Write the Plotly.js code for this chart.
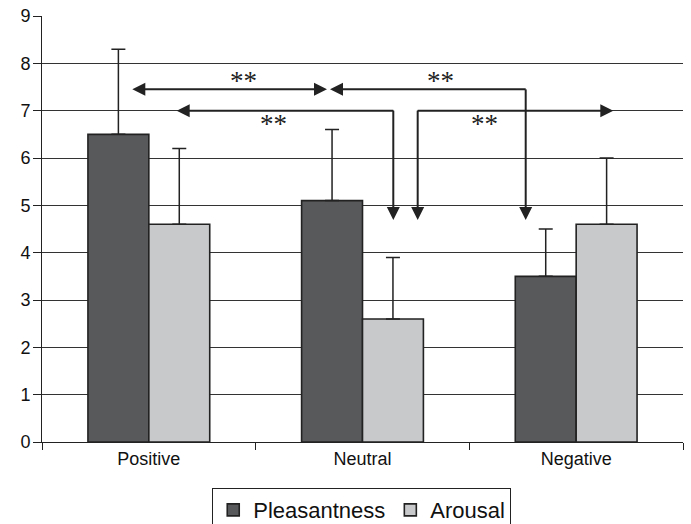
<!DOCTYPE html>
<html>
<head>
<meta charset="utf-8">
<script src="https://cdn.plot.ly/plotly-3.0.1.min.js"></script>
<style>html,body{margin:0;padding:0;background:#fff;}#chart{width:691px;height:524px;}</style>
</head>
<body>
<div id="chart"></div>
<script>
// ---- data ----
const categories = ["Positive", "Neutral", "Negative"];
const pleasantness = [6.5, 5.1, 3.5];
const pleasantnessErr = [1.8, 1.5, 1.0];
const arousal = [4.6, 2.6, 4.6];
const arousalErr = [1.6, 1.3, 1.4];
const yTicks = [0, 1, 2, 3, 4, 5, 6, 7, 8, 9];
const sigLabel = "**";

// ---- styles ----
const ink = "#222222";
const darkFill = "#58595b";
const lightFill = "#c8c9cb";

function barTrace(name, vals, errs, fill) {
  return {
    type: "bar", name: name, x: categories, y: vals,
    marker: {color: fill, line: {color: ink, width: 1.6}},
    error_y: {type: "data", symmetric: false, array: errs, arrayminus: vals.map(() => 0),
              color: ink, thickness: 1.5, width: 7},
    hoverinfo: "none"
  };
}

const traces = [
  barTrace("Pleasantness", pleasantness, pleasantnessErr, darkFill),
  barTrace("Arousal", arousal, arousalErr, lightFill)
];

// ---- significance arrows (category-index x, value y) ----
const upperY = 7.45, lowerY = 7.0, dropY = 4.69;
const shapes = [];
function seg(x0, y0, x1, y1, color, w) {
  shapes.push({type: "line", xref: "x", yref: "y", x0: x0, y0: y0, x1: x1, y1: y1,
               line: {color: color || ink, width: w || 2}, layer: "above"});
}
function head(x, y, dir) {
  const L = 13, H = 6.5;
  let p;
  if (dir === "right") p = `M0,0 L${-L},${H} L${-L},${-H} Z`;
  else if (dir === "left") p = `M0,0 L${L},${H} L${L},${-H} Z`;
  else p = `M0,0 L${-H},${L} L${H},${L} Z`;
  shapes.push({type: "path", xref: "x", yref: "y", xsizemode: "pixel", ysizemode: "pixel",
               xanchor: x, yanchor: y, path: p, fillcolor: ink, line: {width: 0}, layer: "above"});
}
// gap in gridline 7
seg(1.1441, lowerY, 1.2583, lowerY, "#ffffff", 3);
// arrow 1: Positive <-> Neutral (upper)
seg(-0.0774 + 0.05, upperY, 0.8338 - 0.05, upperY);
head(-0.0774, upperY, "left");
head(0.8338, upperY, "right");
// arrow 2: Neutral <- ... -> Negative (upper, drop)
seg(0.8479 + 0.05, upperY, 1.7638, upperY);
seg(1.7638, upperY, 1.7638, dropY + 0.2);
head(0.8479, upperY, "left");
head(1.7638, dropY, "down");
// arrow 3: Positive <- ... drop at Neutral
seg(0.1304 + 0.05, lowerY, 1.1441, lowerY);
seg(1.1441, lowerY, 1.1441, dropY + 0.2);
head(0.1304, lowerY, "left");
head(1.1441, dropY, "down");
// arrow 4: drop at Neutral ... -> Negative
seg(1.2583, lowerY, 2.1738 - 0.05, lowerY);
seg(1.2583, lowerY, 1.2583, dropY + 0.2);
head(2.1738, lowerY, "right");
head(1.2583, dropY, "down");

const starFont = {family: "Liberation Serif, Times New Roman, serif", size: 27, color: ink};
const starPos = [[0.4421, 7.63], [1.3664, 7.63], [0.5811, 6.71], [1.5719, 6.71]];
const annotations = starPos.map(p => ({
  xref: "x", yref: "y", x: p[0], y: p[1], text: sigLabel, showarrow: false,
  xanchor: "center", yanchor: "middle", font: starFont
}));

const layout = {
  width: 691, height: 524,
  margin: {l: 42, r: 8, t: 16, b: 82},
  paper_bgcolor: "#ffffff", plot_bgcolor: "#ffffff",
  barmode: "group", bargap: 0.43, bargroupgap: 0,
  font: {family: "Liberation Sans, Arial, sans-serif", size: 18, color: "#111"},
  xaxis: {
    type: "category", range: [-0.5, 2.5], tickson: "boundaries",
    showline: true, linecolor: ink, linewidth: 1,
    ticks: "outside", ticklen: 7, tickcolor: ink, tickwidth: 1,
    showgrid: false, zeroline: false, automargin: false,
    tickfont: {size: 18, color: "#111"}
  },
  yaxis: {
    range: [0, 9], tickvals: yTicks, ticktext: yTicks.map(String),
    showline: true, linecolor: ink, linewidth: 1,
    ticks: "outside", ticklen: 8, tickcolor: ink, tickwidth: 1,
    showgrid: true, gridcolor: "#333333", gridwidth: 1,
    zeroline: false, ticklabelstandoff: -1, automargin: false,
    tickfont: {size: 18, color: "#111"}
  },
  showlegend: true,
  legend: {
    orientation: "h", x: 0.5235, xanchor: "center", xref: "container",
    y: 0.0685, yanchor: "top", yref: "container",
    bordercolor: ink, borderwidth: 1, bgcolor: "#ffffff",
    font: {size: 22, color: "#111"}, itemclick: false, itemdoubleclick: false
  },
  shapes: shapes,
  annotations: annotations
};

Plotly.newPlot("chart", traces, layout, {displayModeBar: false, staticPlot: true});
</script>
</body>
</html>
